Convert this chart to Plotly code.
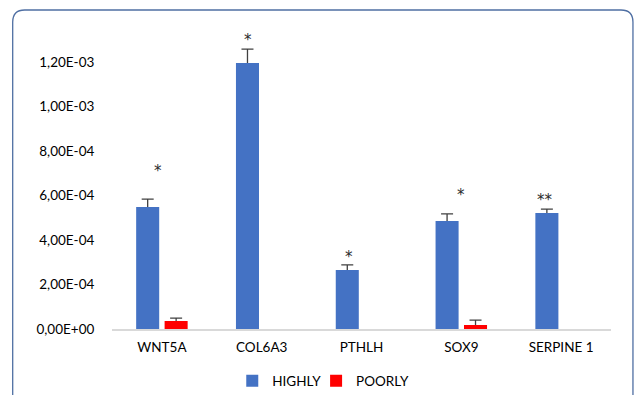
import plotly.graph_objects as go

genes = ["WNT5A", "COL6A3", "PTHLH", "SOX9", "SERPINE 1"]
highly = [5.48e-4, 1.195e-3, 2.65e-4, 4.85e-4, 5.21e-4]
highly_err = [3.6e-5, 6.3e-5, 2.3e-5, 3.2e-5, 1.8e-5]
poorly = [3.6e-5, None, None, 1.8e-5, None]
poorly_err = [1.3e-5, None, None, 2.2e-5, None]
sig_labels = ["*", "*", "*", "*", "**"]
sig_y = [7.24e-4, 1.312e-3, 3.37e-4, 6.16e-4, 5.93e-4]
sig_xshift = [-3.5, -14, -13, 0, -16.5]
y_ticks = [0, 2e-4, 4e-4, 6e-4, 8e-4, 1e-3, 1.2e-3]
y_tick_text = ["0,00E+00", "2,00E-04", "4,00E-04", "6,00E-04", "8,00E-04", "1,00E-03", "1,20E-03"]

BLUE = "#4472C4"
RED = "#FF0000"
ERR = "#404040"
FONT = "Lato"
TXT = "#000000"

fig = go.Figure()

# Error-bar carriers (drawn first so the real bars hide the lower cap)
for name, vals, errs in [("H", highly, highly_err), ("P", poorly, poorly_err)]:
    fig.add_trace(go.Bar(
        x=genes, y=vals, offsetgroup=name, showlegend=False, hoverinfo="skip",
        marker=dict(color="rgba(0,0,0,0)", line=dict(width=0)),
        error_y=dict(type="data", array=errs, symmetric=True,
                     color=ERR, thickness=1.3, width=6),
    ))

fig.add_trace(go.Bar(x=genes, y=highly, name="HIGHLY", offsetgroup="H", legend="legend",
                     marker=dict(color=BLUE, line=dict(width=0))))
fig.add_trace(go.Bar(x=genes, y=poorly, name="POORLY", offsetgroup="P", legend="legend2",
                     marker=dict(color=RED, line=dict(width=0))))

for g, lab, yv, xs in zip(genes, sig_labels, sig_y, sig_xshift):
    fig.add_annotation(x=g, y=yv, text=lab, showarrow=False, xshift=xs, yshift=-3,
                       xanchor="center", yanchor="middle",
                       font=dict(family="DejaVu Sans", size=15, color="#2B2B2B"))

# rounded frame
L, R, T, B = -0.199, 1.044, 1.0633, -0.2367
rx, ry = 0.024, 0.04
path = (f"M{L},{B} L{L},{T-ry} Q{L},{T} {L+rx},{T} "
        f"L{R-rx},{T} Q{R},{T} {R},{T-ry} L{R},{B}")
fig.add_shape(type="path", xref="paper", yref="paper", path=path,
              line=dict(color="#4F6FA3", width=1.3))

leg_common = dict(orientation="h", xanchor="left", y=-0.173, yanchor="middle",
                  font=dict(family=FONT, size=13.5, color=TXT), itemwidth=30,
                  bgcolor="rgba(0,0,0,0)")

fig.update_layout(
    width=634, height=395,
    margin=dict(l=111.5, r=22.5, t=29, b=66, autoexpand=False),
    paper_bgcolor="white", plot_bgcolor="white",
    barmode="group", bargap=0.43, bargroupgap=0.19,
    font=dict(family=FONT, size=13.5, color=TXT),
    showlegend=True,
    legend=dict(x=0.241, **leg_common),
    legend2=dict(x=0.409, **leg_common),
    xaxis=dict(showline=True, linecolor="#D9D9D9", linewidth=1.5, showgrid=False,
               ticks="outside", ticklen=5, tickcolor="rgba(0,0,0,0)",
               tickfont=dict(family=FONT, size=13.5, color=TXT)),
    yaxis=dict(range=[0, 1.348e-3], tickvals=y_ticks, ticktext=y_tick_text,
               showgrid=False, zeroline=False, showline=False,
               ticks="outside", ticklen=14, tickcolor="rgba(0,0,0,0)",
               tickfont=dict(family=FONT, size=13.5, color=TXT)),
)

fig.write_html("out.html", config={"displayModeBar": False},
               post_script="document.body.style.margin='0';")
